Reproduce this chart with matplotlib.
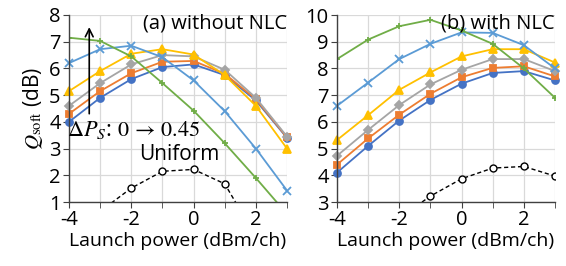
import matplotlib
matplotlib.use("Agg")
import matplotlib.pyplot as plt

plt.rcParams['font.family'] = ['Open Sans', 'DejaVu Sans']
plt.rcParams['mathtext.fontset'] = 'stix'
plt.rcParams['axes.unicode_minus'] = False

x = [-4, -3, -2, -1, 0, 1, 2, 3]

# (a) without NLC
a_dp0   = [4.0, 4.9, 5.6, 6.05, 6.15, 5.75, 4.8, 3.4]
a_dp1   = [4.3, 5.15, 5.82, 6.25, 6.28, 5.8, 4.85, 3.42]
a_dp2   = [4.6, 5.45, 6.15, 6.5, 6.45, 5.95, 4.9, 3.45]
a_dp3   = [5.15, 5.9, 6.55, 6.72, 6.52, 5.75, 4.6, 3.0]
a_dp4   = [6.2, 6.72, 6.85, 6.42, 5.55, 4.4, 3.0, 1.43]
a_dp5   = [7.15, 7.03, 6.45, 5.45, 4.42, 3.2, 1.9, 0.55]
a_unif_x = [-3, -2, -1, 0, 1, 2]
a_unif   = [0.65, 1.52, 2.15, 2.22, 1.68, -0.3]

# (b) with NLC
b_dp0   = [4.1, 5.1, 6.05, 6.82, 7.43, 7.83, 7.9, 7.55]
b_dp1   = [4.4, 5.38, 6.27, 7.05, 7.67, 8.02, 8.08, 7.7]
b_dp2   = [4.73, 5.7, 6.63, 7.4, 7.95, 8.35, 8.35, 7.9]
b_dp3   = [5.32, 6.25, 7.2, 7.85, 8.45, 8.72, 8.72, 8.22]
b_dp4   = [6.6, 7.47, 8.35, 8.92, 9.35, 9.33, 8.87, 8.0]
b_dp5   = [8.35, 9.08, 9.58, 9.82, 9.42, 8.92, 8.0, 6.9]
b_unif_x = [-2, -1, 0, 1, 2, 3]
b_unif   = [2.4, 3.22, 3.87, 4.27, 4.33, 3.97]

colors = ['#4472C4', '#ED7D31', '#A5A5A5', '#FFC000', '#5B9BD5', '#70AD47']
markers = ['o', 's', 'D', '^', 'x', '+']
msizes = [5, 5, 4.5, 5.5, 5.5, 5]

fig = plt.figure(figsize=(5.66, 2.66), dpi=100)
axA = fig.add_axes([69/566, 1-202/266, (287-69)/566, (202-15)/266])
axB = fig.add_axes([337/566, 1-202/266, (555-337)/566, (202-15)/266])

def style(ax, ylim):
    ax.set_xlim(-4, 3)
    ax.set_ylim(*ylim)
    ax.set_xticks(range(-4, 4), minor=True)
    ax.set_xticks([-4, -2, 0, 2])
    ax.set_yticks(range(ylim[0], ylim[1] + 1))
    ax.grid(True, which='both', color='#D9D9D9', lw=0.9)
    ax.set_axisbelow(True)
    for s in ['top', 'right']:
        ax.spines[s].set_visible(False)
    for s in ['left', 'bottom']:
        ax.spines[s].set_color('#404040')
        ax.spines[s].set_linewidth(1.0)
    ax.tick_params(which='both', direction='out', color='#404040', labelsize=14.5, pad=2)
    ax.tick_params(which='major', length=4)
    ax.tick_params(which='minor', length=4)
    ax.set_xlabel('Launch power (dBm/ch)', fontsize=14, labelpad=1)

def draw(ax, series, ux, uy):
    for ys, c, m, ms in zip(series, colors, markers, msizes):
        ax.plot(x, ys, color=c, marker=m, ms=ms, lw=1.3, mew=1.3, clip_on=(m == '+'))
    ax.plot(ux, uy, color='black', ls=(0, (3, 2)), lw=1.0, marker='o', ms=5,
            mfc='white', mec='black', mew=1.0)

style(axA, (1, 8))
style(axB, (3, 10))
draw(axA, [a_dp0, a_dp1, a_dp2, a_dp3, a_dp4, a_dp5], a_unif_x, a_unif)
draw(axB, [b_dp0, b_dp1, b_dp2, b_dp3, b_dp4, b_dp5], b_unif_x, b_unif)

axA.set_ylabel(r'$Q_{\mathrm{soft}}$ (dB)', fontsize=15, labelpad=3)
axA.text(1.0, 1.01, '(a) without NLC', transform=axA.transAxes, ha='right', va='top', fontsize=14.5)
axB.text(1.0, 1.01, '(b) with NLC', transform=axB.transAxes, ha='right', va='top', fontsize=14.5)

axA.annotate('', xy=(-3.35, 7.65), xytext=(-3.35, 4.2),
             arrowprops=dict(arrowstyle='->', color='black', lw=1.2, mutation_scale=14))
axA.text(-4.05, 3.7, r'$\Delta P_S$: $0\,\rightarrow\,0.45$', fontsize=16, ha='left', va='center')
axA.text(-0.45, 2.78, 'Uniform', fontsize=15, ha='center', va='center')

fig.savefig('out.png', dpi=100)
